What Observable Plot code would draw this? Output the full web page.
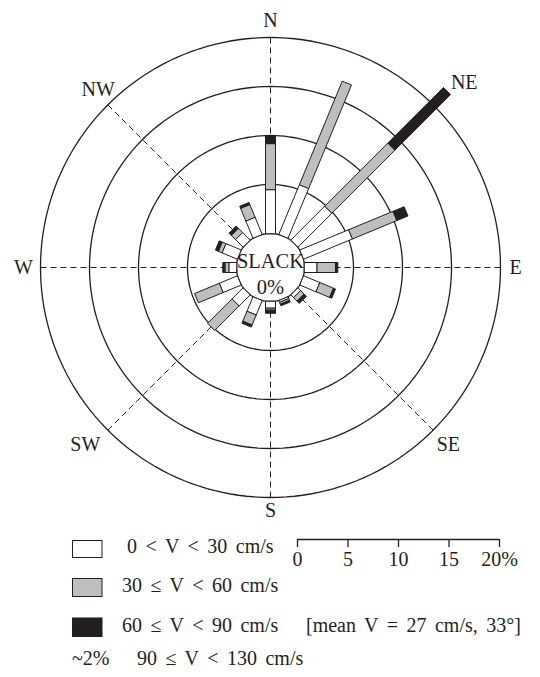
<!DOCTYPE html>
<html><head><meta charset="utf-8">
<script src="https://cdn.jsdelivr.net/npm/d3@7"></script>
<script src="https://cdn.jsdelivr.net/npm/@observablehq/plot@0.6"></script>
<style>
body{margin:0;background:#fff;}
#wrap{position:relative;width:540px;height:677px;font-family:"Liberation Serif",serif;}
#chart,#scale{position:absolute;left:0;}
#chart{top:0;}
#scale{top:530px;}
#legend{position:absolute;left:0;top:0;pointer-events:none;}
</style></head>
<body>
<div id="wrap"><div id="chart"></div><div id="scale"></div><svg id="legend"></svg></div>
<script>
// ---- data (percent of time) ----
const directions = ["N","NNE","NE","ENE","E","ESE","SE","SSE","S","SSW","SW","WSW","W","WNW","NW","NNW"];
const slow   = [4.5, 5.5, 4.9, 5.4, 1.3, 1.8, 0.4, 0.2, 0.7, 1.6, 1.6, 2.0, 0.8, 1.7, 1.1, 1.9]; // 0 < V < 30
const medium = [4.7, 11.4, 9.1, 4.9, 1.9, 1.5, 0.5, 0.2, 0.2, 1.1, 3.5, 2.7, 0.4, 0.4, 0.6, 1.4]; // 30 <= V < 60
const fast   = [0.8, 0, 8.0, 1.2, 0.2, 0.2, 0.3, 0.15, 0.3, 0.2, 0, 0, 0.2, 0.3, 0.3, 0.2];   // 60 <= V < 90
const classLabels = ["0 < V < 30 cm/s", "30 \u2264 V < 60 cm/s", "60 \u2264 V < 90 cm/s", "90 \u2264 V < 130 cm/s"];
const ringTicks = [5, 10, 15, 20];
const scaleTicks = [0, 5, 10, 15, 20];
const compass = ["N","NE","E","SE","S","SW","W","NW"];
const slackLabel = ["SLACK", "0%"];
const meanNote = "[mean V = 27 cm/s, 33\u00b0]";
const extremeNote = "~2%";

// ---- layout ----
const BLACK = "#231f20", GREY = "#bcbec0", WHITE = "#ffffff";
const W = 540, H = 525, CX = 270, CY = 267;
const K = 9.8;            // px per percent
const R0 = 34 / K;        // slack circle radius in percent units
const halfW = 5 / K;      // bar half width
const rad = a => a * Math.PI / 180;

const segs = [];
directions.forEach((d, i) => {
  const th = rad(i * 22.5);
  const ux = Math.sin(th), uy = Math.cos(th), vx = Math.cos(th), vy = -Math.sin(th);
  let r = R0;
  [[slow[i], WHITE], [medium[i], GREY], [fast[i], BLACK]].forEach(([v, c], k) => {
    if (v <= 0) return;
    const r1 = r, r2 = r + v; r = r2;
    const id = d + k;
    [[r1, -1], [r2, -1], [r2, 1], [r1, 1]].forEach(([rr, s]) =>
      segs.push({id, color: c, x: rr * ux + s * halfW * vx, y: rr * uy + s * halfW * vy}));
  });
});

const ringPts = [];
[0, ...ringTicks].forEach(t => {
  for (let a = 0; a < 360; a += 2) {
    ringPts.push({ring: t, x: (R0 + t) * Math.sin(rad(a)), y: (R0 + t) * Math.cos(rad(a))});
  }
});

const outer = R0 + ringTicks[ringTicks.length - 1];
const spokes = compass.map((c, i) => {
  const th = rad(i * 45);
  return {x1: R0 * Math.sin(th), y1: R0 * Math.cos(th), x2: outer * Math.sin(th), y2: outer * Math.cos(th)};
});

// label placement (px radius, angle tweak)
const labelPlace = {N: [247, 0], NE: [268, 1.3], E: [245, 0], SE: [250.7, -0.2], S: [243.5, 0], SW: [256.5, 1.2], W: [247, 0], NW: [248, 1]};
const compassPos = compass.map((c, i) => {
  const [rp, da] = labelPlace[c];
  const th = rad(i * 45 + da);
  return {text: c, x: rp / K * Math.sin(th), y: rp / K * Math.cos(th)};
});

const chart = Plot.plot({
  width: W, height: H, margin: 0,
  x: {domain: [-CX / K, (W - CX) / K], axis: null},
  y: {domain: [-(H - CY) / K, CY / K], axis: null},
  color: {type: "identity"},
  style: {fontFamily: "Liberation Serif", background: "transparent", overflow: "visible"},
  marks: [
    Plot.link(spokes, {x1: "x1", y1: "y1", x2: "x2", y2: "y2", stroke: BLACK, strokeWidth: 1, strokeDasharray: "6,4"}),
    Plot.line(ringPts, {x: "x", y: "y", z: "ring", stroke: BLACK, strokeWidth: 1.3, curve: "linear-closed"}),
    Plot.line(segs, {x: "x", y: "y", z: "id", fill: "color", stroke: BLACK, strokeWidth: 1, curve: "linear-closed"}),
    Plot.text(compassPos, {x: "x", y: "y", text: "text", fontSize: 20, fill: BLACK, lineAnchor: "middle"}),
    Plot.text([slackLabel[0]], {x: 0, y: 0, text: d => d, fontSize: 20.5, fill: BLACK, lineAnchor: "middle", dy: -6.5}),
    Plot.text([slackLabel[1]], {x: 0, y: 0, text: d => d, fontSize: 20.5, fill: BLACK, lineAnchor: "middle", dy: 19.5})
  ]
});
document.getElementById("chart").append(chart);

// scale bar
const scaleBar = Plot.plot({
  width: W, height: 45, marginLeft: 297, marginRight: 41, marginTop: 0, marginBottom: 36,
  x: {domain: [0, 20]},
  y: {domain: [0, 1], axis: null},
  style: {fontFamily: "Liberation Serif", background: "transparent", color: BLACK, overflow: "visible"},
  marks: [
    Plot.ruleY([0], {x1: 0, x2: 20, stroke: BLACK, strokeWidth: 1.3}),
    Plot.axisX(scaleTicks, {tickSize: 8, tickPadding: 4, fontSize: 20, label: null, stroke: BLACK, strokeWidth: 1.3,
      tickFormat: d => d === 20 ? d + "%" : String(d)})
  ]
});
document.getElementById("scale").append(scaleBar);

// legend
const leg = d3.select("#legend").attr("width", W).attr("height", 677)
  .style("font-family", "Liberation Serif").style("font-size", "20px");
const boxes = [
  {y: 540.5, h: 17, fill: WHITE},
  {y: 578.5, h: 18, fill: GREY},
  {y: 618, h: 18.5, fill: BLACK}
];
boxes.forEach(b => leg.append("rect").attr("x", 72.5).attr("y", b.y).attr("width", 29.5).attr("height", b.h)
  .attr("fill", b.fill).attr("stroke", BLACK).attr("stroke-width", 1));
const texts = [
  {t: classLabels[0], x: 127, y: 553},
  {t: classLabels[1], x: 122, y: 592},
  {t: classLabels[2], x: 122, y: 632},
  {t: meanNote, x: 306, y: 632},
  {t: extremeNote, x: 72, y: 665},
  {t: classLabels[3], x: 137, y: 665}
];
texts.forEach(d => leg.append("text").attr("x", d.x).attr("y", d.y).attr("fill", BLACK)
  .style("word-spacing", "3.5px").text(d.t));
</script>
</body></html>
